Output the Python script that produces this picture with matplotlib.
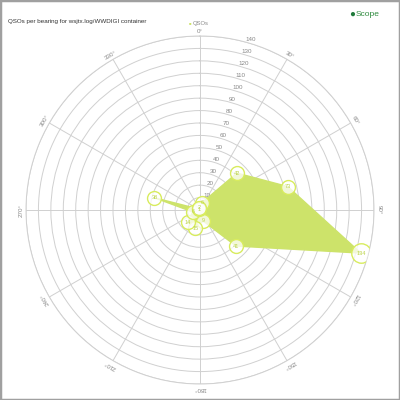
import numpy as np
import matplotlib
matplotlib.use("Agg")
import matplotlib.pyplot as plt
from matplotlib.patches import Rectangle

bearings = [15, 45, 75, 105, 135, 165, 195, 225, 255, 285, 315, 345]
qsos = [6, 42, 73, 134, 41, 9, 15, 14, 6, 38, 1, 2]
r_ticks = [10, 20, 30, 40, 50, 60, 70, 80, 90, 100, 110, 120, 130, 140]
angle_ticks = [0, 30, 60, 90, 120, 150, 180, 210, 240, 270, 300, 330]
title = "QSOs per bearing for wsjtx.log/WWDIGI container"
series_name = "QSOs"

green = "#cde36a"
edge = "#d8ec5e"
grid_c = "#d0d0d0"
txt_c = "#888888"

plt.rcParams['font.family'] = ['Liberation Sans Narrow', 'Liberation Sans', 'DejaVu Sans']

fig = plt.figure(figsize=(4, 4), dpi=100)
fig.patches.append(Rectangle((0, 0), 1, 1, transform=fig.transFigure, fill=False,
                             edgecolor="#a0a0a0", linewidth=2.5))

ax = fig.add_axes([0.065, 0.04, 0.87, 0.87], projection='polar')
ax.set_theta_zero_location('N')
ax.set_theta_direction(-1)
ax.set_ylim(0, 140)

th = np.deg2rad(bearings)
thc = np.append(th, th[0])
vc = np.append(qsos, qsos[0])
ax.fill(thc, vc, color=green, alpha=1.0, zorder=3, linewidth=0)
ax.plot(thc, vc, color=green, linewidth=1, zorder=3)
for t, v in zip(th, qsos):
    s = 7 if v >= 100 else 5
    ax.plot([t], [v], 'o', markersize=2 * s, markerfacecolor=(1, 1, 1, 0.75),
            markeredgecolor=edge, markeredgewidth=1, zorder=4)
    ax.text(t, v, str(v), fontsize=4, color="#bcd44a", ha='center', va='center', zorder=5)

ax.set_xticks(np.deg2rad(angle_ticks))
ax.set_xticklabels([])
for a in angle_ticks:
    ax.text(np.deg2rad(a), 144, f"{a}°", fontsize=4.5, color=txt_c, ha='center', va='center',
            rotation=-a)
ax.set_yticks(r_ticks)
ax.set_yticklabels([str(r) for r in r_ticks], fontsize=4.5, color=txt_c)
ax.set_rlabel_position(15)
ax.grid(True, color=grid_c, linewidth=0.7)
ax.spines['polar'].set_color(grid_c)
ax.spines['polar'].set_linewidth(0.7)
ax.set_axisbelow(True)

fig.text(0.02, 0.945, title, fontsize=4.5, color="#333333", ha='left', va='center')
fig.text(0.474, 0.942, "■", fontsize=3, color=green, ha='center', va='center')
fig.text(0.481, 0.942, series_name, fontsize=4.2, color=txt_c, ha='left', va='center')
fig.text(0.88, 0.966, "●", fontsize=7, color="#1f7a3a", ha='center', va='center')
fig.text(0.89, 0.963, "Scope", fontsize=6, color="#2e8b3e", ha='left', va='center')

fig.savefig("out.png", dpi=100)
